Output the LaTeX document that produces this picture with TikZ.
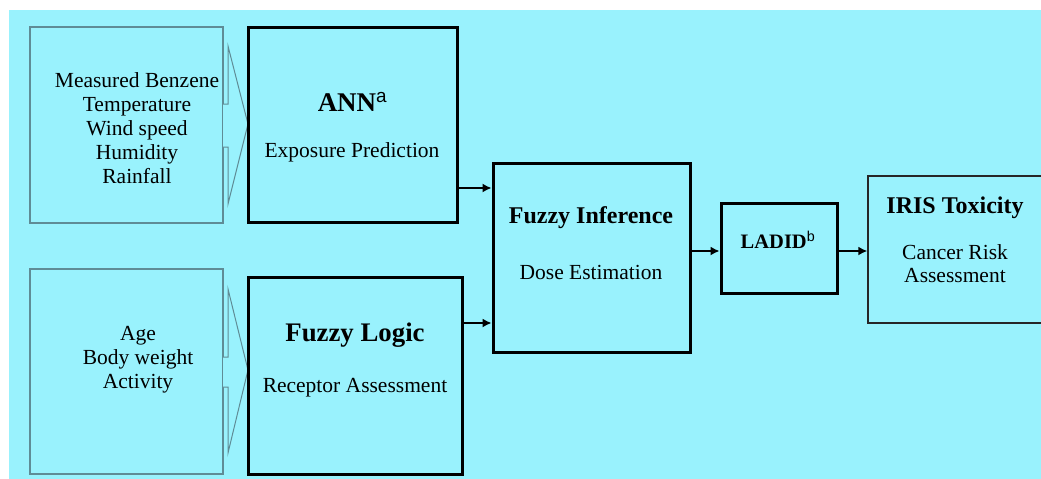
\documentclass[tikz,border=0pt]{standalone}
\usepackage{fontspec}
\setmainfont{Liberation Serif}
\newfontfamily\supfont{Liberation Sans}
\usetikzlibrary{arrows.meta}
\definecolor{bgcyan}{RGB}{153,242,253}
\definecolor{inedge}{RGB}{95,140,150}
\tikzset{
  inbox/.style={draw=inedge, line width=1.3pt, fill=bgcyan, minimum width=#1, inner sep=0pt},
  thickbox/.style={draw=black, line width=3pt, inner sep=0pt},
  thinbox/.style={draw=black!85, line width=1.5pt, inner sep=0pt},
  callout/.style={draw=inedge, line width=1pt, fill=bgcyan, line join=miter},
  arr/.style={line width=1.5pt, -{Latex[length=9pt,width=9pt]}},
  txt/.style={inner sep=0pt, align=center, font=\fontsize{21.5}{24}\selectfont},
  ttl/.style={inner sep=0pt, align=center, font=\fontsize{#1}{#1}\selectfont\bfseries},
}
\begin{document}
\begin{tikzpicture}[x=1pt,y=-1pt]
\useasboundingbox (0,0) rectangle (1041,479);
\fill[bgcyan] (9,10) rectangle (1041,479);

% input boxes
\node[inbox=193pt, minimum height=196pt] (in1) at (126.5,125) {};
\node[inbox=193pt, minimum height=205pt] (in2) at (126.5,371.5) {};

% big callout arrows behind
\draw[callout] (223,104) -- (228,104) -- (228,46) -- (248,124) -- (228,204) -- (228,147) -- (223,147);
\draw[callout] (223,357) -- (228,357) -- (228,289) -- (248,370) -- (228,453) -- (228,387) -- (223,387);

\node[txt] (in1t) at (137,128) {Measured Benzene\\Temperature\\Wind speed\\Humidity\\Rainfall};
\node[txt] (in2t) at (138,360) {Age\\Body weight\\Activity};

% main boxes
\node[thickbox, minimum width=209pt, minimum height=195pt] (ann) at (352.5,124.5) {};
\node[thickbox, minimum width=214pt, minimum height=197pt] (fl) at (355,375.5) {};
\node[thickbox, minimum width=197pt, minimum height=189pt] (fi) at (591.5,257.5) {};
\node[thickbox, minimum width=116pt, minimum height=90pt] (ladid) at (779,248) {};
\node[thinbox, minimum width=180pt, minimum height=147pt] (iris) at (958,249.5) {};

% texts
\node[ttl=27] (annt) at (352.5,102) {ANN\textsuperscript{\mdseries\supfont a}};
\node[txt] (anns) at (352,152) {Exposure Prediction};
\node[ttl=26.8] (flt) at (355,335) {Fuzzy Logic};
\node[txt] (fls) at (355,388) {Receptor Assessment};
\node[ttl=24] (fit) at (591,218) {Fuzzy Inference};
\node[txt] (fis) at (591,272) {Dose Estimation};
\node[ttl=20.5] (ladidt) at (778,240) {LADID\textsuperscript{\mdseries\supfont b}};
\node[ttl=24] (irist) at (955,208) {IRIS Toxicity};
\node[txt, font=\fontsize{21.5}{23}\selectfont] (iriss) at (955,264) {Cancer Risk\\Assessment};

% connectors
\coordinate (ya) at (0,188);
\coordinate (yb) at (0,323);
\coordinate (yc) at (0,251);
\draw[arr] (ann.east |- ya) -- (fi.west |- ya);
\draw[arr] (fl.east |- yb) -- (fi.west |- yb);
\draw[arr] (fi.east |- yc) -- (ladid.west |- yc);
\draw[arr] (ladid.east |- yc) -- (iris.west |- yc);
\end{tikzpicture}
\end{document}
